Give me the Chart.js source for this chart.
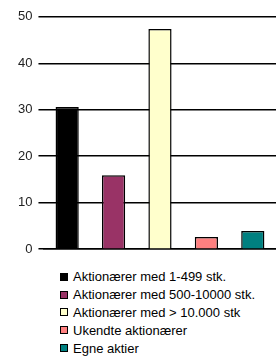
<!DOCTYPE html>
<html>
<head>
<meta charset="utf-8">
<script src="https://cdn.jsdelivr.net/npm/chart.js@4"></script>
<style>
  body { margin: 0; background: #fff; width: 276px; height: 358px; overflow: hidden; position: relative; font-family: Arial, "Liberation Sans", sans-serif; }
  #wrap { position: absolute; left: 0; top: 3px; width: 276px; height: 260px; }
  #legend { position: absolute; left: 60px; top: 268px; margin: 0; padding: 0; list-style: none; font-size: 13px; color: #000; }
  #legend li { height: 17.8px; line-height: 15px; display: flex; align-items: center; white-space: nowrap; }
  #legend span.box { display: inline-block; width: 6px; height: 6px; border: 1px solid #000; margin-right: 5px; }
</style>
</head>
<body>
<div id="wrap"><canvas id="chart"></canvas></div>
<ul id="legend"></ul>
<script>
// Kategorier og værdier
const categories = [
  "Aktionærer med 1-499 stk.",
  "Aktionærer med 500-10000 stk.",
  "Aktionærer med > 10.000 stk",
  "Ukendte aktionærer",
  "Egne aktier"
];
const values = [30.6, 15.9, 47.4, 2.6, 3.9];
const yTicks = [0, 10, 20, 30, 40, 50];
const colors = ["#000000", "#993366", "#FFFFCC", "#FF8080", "#008080"];

// HTML-legende
const legend = document.getElementById("legend");
categories.forEach((c, i) => {
  const li = document.createElement("li");
  li.innerHTML = '<span class="box" style="background:' + colors[i] + '"></span>' + c;
  legend.appendChild(li);
});

const ctx = document.getElementById("chart").getContext("2d");
new Chart(ctx, {
  type: "bar",
  data: {
    labels: categories,
    datasets: [{
      data: values,
      backgroundColor: colors,
      borderColor: "#000",
      borderWidth: 1.5,
      categoryPercentage: 1,
      barPercentage: 0.5
    }]
  },
  options: {
    responsive: true,
    maintainAspectRatio: false,
    animation: false,
    layout: { padding: { top: 9, right: 0, left: 12, bottom: 0 } },
    plugins: { legend: { display: false }, tooltip: { enabled: false } },
    scales: {
      x: {
        ticks: { display: false },
        grid: { display: false },
        border: { display: true, color: "#000", width: 1.5 }
      },
      y: {
        min: 0,
        max: 50,
        afterBuildTicks: (axis) => { axis.ticks = yTicks.map(v => ({ value: v })); },
        ticks: { color: "#222", font: { family: "Arial, 'Liberation Sans'", size: 13 }, padding: 6 },
        grid: { color: "#000", lineWidth: 1.5, drawTicks: true, tickLength: 5.5 },
        border: { display: false }
      }
    }
  }
});
</script>
</body>
</html>
